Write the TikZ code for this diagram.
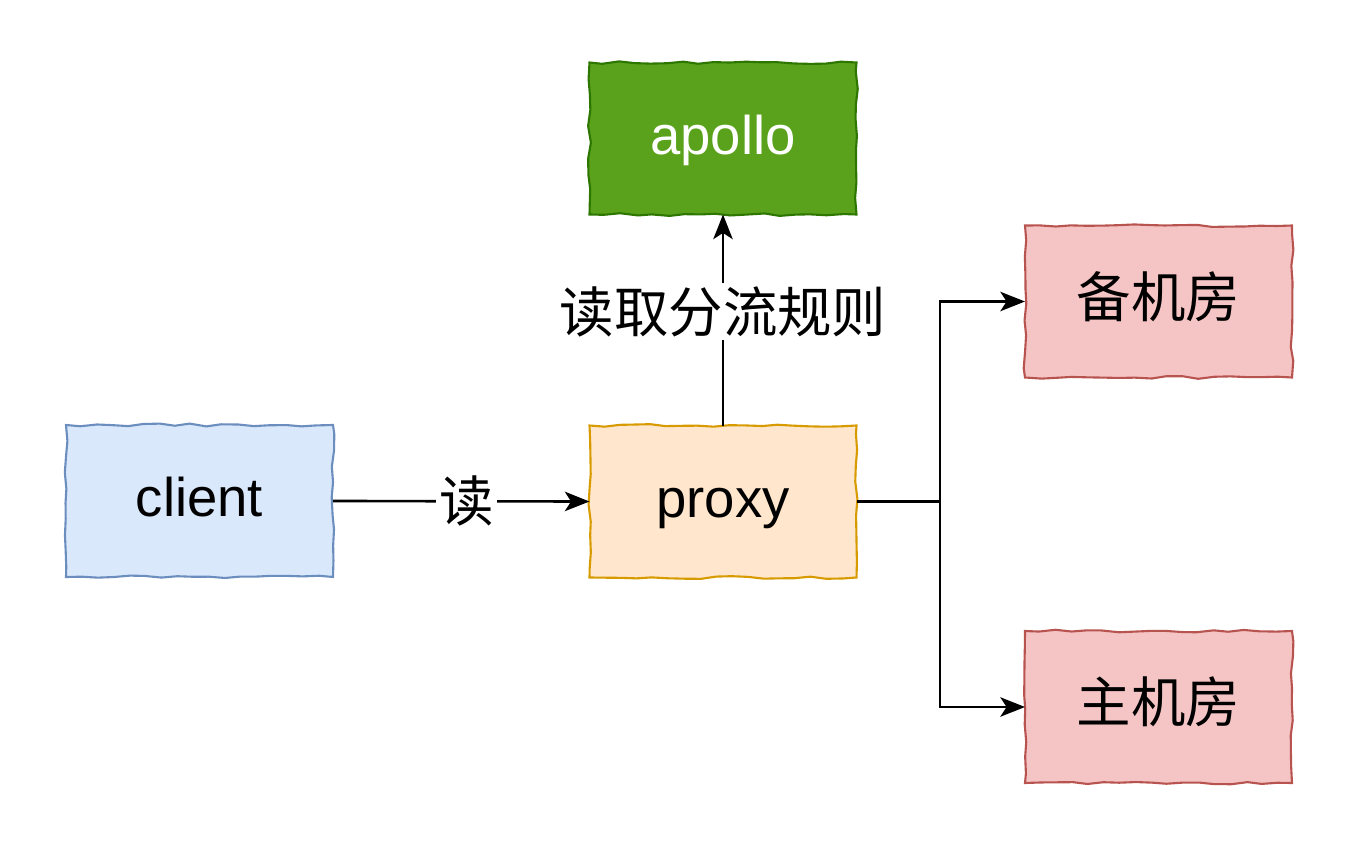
\documentclass[tikz,border=0pt]{standalone}
\usepackage{fontspec}
\setmainfont{Liberation Sans}
\newfontfamily\cjk{Noto Sans CJK SC}
\usepackage{tikz}
\usetikzlibrary{arrows.meta}
\usetikzlibrary{decorations.pathmorphing,positioning,calc}

\definecolor{cliFill}{HTML}{DAE8FC} \definecolor{cliLine}{HTML}{6C8EBF}
\definecolor{prxFill}{HTML}{FFE6CC} \definecolor{prxLine}{HTML}{D79B00}
\definecolor{apoFill}{HTML}{5AA21B} \definecolor{apoLine}{HTML}{2D7600}
\definecolor{roomFill}{HTML}{F5C4C4} \definecolor{roomLine}{HTML}{B85450}

\tikzset{
  sketch/.style={draw, line width=1.2pt, minimum width=5.34cm, minimum height=3.04cm,
    inner sep=0pt, outer sep=0pt, font=\fontsize{31}{36}\selectfont,
    text height=27pt, text depth=9pt,
    decorate, decoration={random steps, segment length=9pt, amplitude=0.8pt}},
  arr/.style={line width=1.5pt, -{Stealth[length=14pt,width=11pt,inset=3.5pt]}},
  lbl/.style={fill=white, inner sep=2pt, font=\fontsize{31}{36}\selectfont\cjk}
}

\begin{document}
\begin{tikzpicture}
			\pgfmathsetseed{7}
			\useasboundingbox (0,0) rectangle (27.04,16.96);
			\node[sketch, fill=cliFill, draw=cliLine] (client) at (3.99,6.94) {client};
			\node[sketch, fill=prxFill, draw=prxLine] (proxy) at (14.46,6.93) {proxy};
			\node[sketch, fill=apoFill, draw=apoLine, text=white] (apollo) at (14.46,14.19) {apollo};
			\node[sketch, fill=roomFill, draw=roomLine, font=\fontsize{31}{36}\selectfont\cjk] (bei) at (23.17,10.93) {备机房};
			\node[sketch, fill=roomFill, draw=roomLine, font=\fontsize{31}{36}\selectfont\cjk] (zhu) at (23.17,2.82) {主机房};
			\coordinate (split) at (18.8,6.93);
			\draw[arr] (client.east) -- node[lbl, pos=0.52] {读} (proxy.west);
			\draw[arr] (proxy.north) -- node[lbl, pos=0.54] {读取分流规则} (apollo.south);
			\draw[line width=1.5pt] (proxy.east) -- (split);
			\draw[arr] (split) |- (bei.west);
			\draw[arr] (split) |- (zhu.west);
		\end{tikzpicture}
\end{document}
